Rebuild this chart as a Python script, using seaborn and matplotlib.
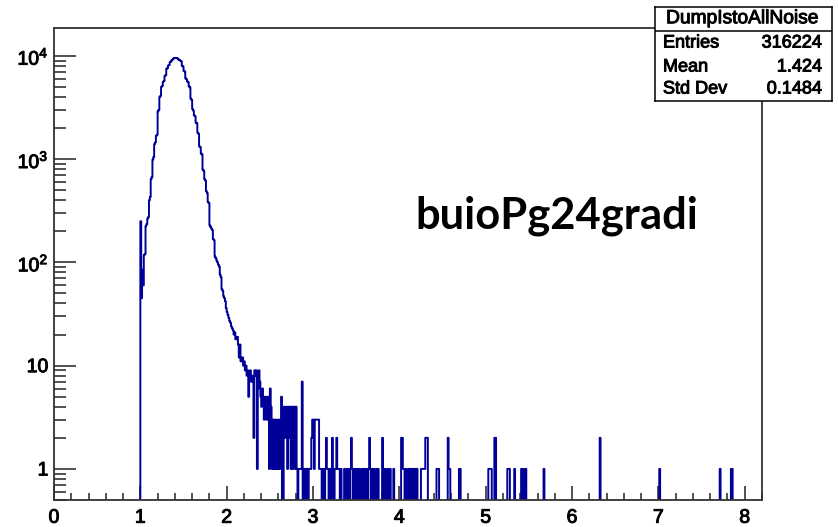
import numpy as np
import pandas as pd
import matplotlib
matplotlib.use("Agg")
import matplotlib.pyplot as plt
import matplotlib.patheffects as pe
import seaborn as sns
from matplotlib.ticker import FixedLocator, FixedFormatter, LogLocator, NullFormatter, MultipleLocator

# ---------------- data ----------------
bin_width = 0.01
x_min, x_max = 0.0, 8.2
y_min, y_max = 0.5, 1.86e4

peak_start = 1.00
peak_counts = [
    250, 45, 85, 60, 118, 120, 225, 235, 265, 275,
    400, 430, 640, 670, 990, 1050, 1400, 1450, 1680, 1720,
    2900, 3000, 4000, 4100, 5000, 5100, 5600, 5700, 6400, 6500,
    7500, 7600, 8050, 8150, 8700, 8800, 9100, 9200, 9450, 9500,
    9550, 9500, 9500, 9400, 9200, 9100, 8950, 8850, 8000, 7900,
    7150, 7050, 6050, 5950, 5650, 5550, 5050, 4950, 3850, 3750,
    3050, 2950, 2650, 2600, 2250, 2230, 1800, 1760, 1330, 1310,
    1130, 1110, 790, 770, 640, 620, 490, 470, 385, 375,
    228, 220, 212, 206, 168, 164, 114, 110, 104, 100,
    95, 91, 76, 72, 55, 53, 47, 45, 42, 36,
    33, 31, 29, 27, 26, 24, 23, 22, 20, 21,
    18, 19, 19, 16, 12, 16, 11, 12, 12, 10,
    11, 9, 10, 8, 9, 5, 8, 9, 7, 8,
]

noise_start = 2.30
noise_counts = [
    7, 2, 9, 8, 9, 1, 6, 9, 7, 5,
    4, 6, 5, 3, 5, 4, 3, 5, 3, 1,
    6, 4, 1, 3, 1, 3, 1, 3, 1, 1,
    3, 1, 3, 5, 0, 0, 4, 2, 3, 4,
    1, 4, 2, 4, 1, 4, 1, 4, 4, 1,
    4, 1, 0, 1, 1, 1, 1, 7, 0, 1,
    1, 0, 1, 1, 0, 1, 1, 1, 2, 3,
    3, 1, 3, 3, 3, 3, 3, 1,
]

tail_x = [
    3.08, 3.09, 3.11, 3.12, 3.14, 3.15, 3.16, 3.17, 3.19, 3.20,
    3.22, 3.23, 3.25, 3.26, 3.27, 3.28, 3.29, 3.30, 3.32, 3.36,
    3.39, 3.41, 3.43, 3.44, 3.45, 3.47, 3.49, 3.51, 3.53, 3.56,
    3.58, 3.60, 3.62, 3.64, 3.65, 3.66, 3.68, 3.70, 3.73, 3.75,
    3.80, 3.81, 3.83, 3.86, 3.89, 3.93, 4.02, 4.03, 4.04, 4.05,
    4.07, 4.10, 4.11, 4.13, 4.14, 4.16, 4.17, 4.19, 4.20, 4.25,
    4.26, 4.27, 4.28, 4.29, 4.30, 4.31, 4.32, 4.43, 4.44, 4.45,
    4.56, 4.57, 4.58, 4.69, 4.70, 5.03, 5.04, 5.05, 5.06, 5.10,
    5.11, 5.25, 5.26, 5.27, 5.33, 5.41, 5.42, 5.45, 5.46, 5.67,
    6.32, 7.01, 7.71, 7.84, 7.85,
]
tail_counts = [
    1, 1, 1, 1, 1, 2, 1, 1, 1, 1,
    2, 1, 1, 1, 2, 1, 1, 1, 1, 1,
    1, 1, 1, 2, 1, 1, 1, 1, 1, 1,
    1, 1, 1, 1, 2, 1, 1, 1, 1, 1,
    2, 1, 1, 1, 1, 1, 2, 2, 1, 1,
    1, 1, 1, 1, 1, 1, 1, 1, 1, 1,
    1, 1, 1, 1, 2, 2, 2, 1, 1, 1,
    2, 1, 1, 1, 1, 1, 1, 1, 1, 2,
    2, 1, 1, 1, 1, 1, 1, 1, 1, 1,
    2, 1, 1, 1, 1,
]

x_ticks = [0, 1, 2, 3, 4, 5, 6, 7, 8]
y_ticks = [1, 10, 100, 1000, 10000]
y_tick_labels = ["1", "10", r"$\mathregular{10^{2}}$", r"$\mathregular{10^{3}}$", r"$\mathregular{10^{4}}$"]

stats_title = "DumpIstoAllNoise"
stat_names = ["Entries", "Mean", "Std Dev"]
stat_values = ["316224", "1.424", "0.1484"]
overlay_text = "buioPg24gradi"

# ---------------- build histogram table ----------------
n_bins = int(round((x_max - x_min) / bin_width))
edges = x_min + bin_width * np.arange(n_bins + 1)
counts = np.zeros(n_bins)
i0 = int(round((peak_start - x_min) / bin_width))
counts[i0:i0 + len(peak_counts)] = peak_counts
i1 = int(round((noise_start - x_min) / bin_width))
counts[i1:i1 + len(noise_counts)] = noise_counts
for xv, c in zip(tail_x, tail_counts):
    counts[int(round((xv - x_min) / bin_width))] = c
df = pd.DataFrame({"x": edges[:-1] + bin_width / 2, "w": counts})

# ---------------- style ----------------
sns.set_style("white")
plt.rcParams["font.family"] = ["Liberation Sans", "DejaVu Sans"]
plt.rcParams["mathtext.fontset"] = "custom"
plt.rcParams["mathtext.rm"] = "Liberation Sans"
plt.rcParams["text.color"] = "black"
plt.rcParams["xtick.labelcolor"] = "black"
plt.rcParams["ytick.labelcolor"] = "black"

W, H = 838, 527
fig = plt.figure(figsize=(W / 100, H / 100), dpi=100)
fig.patch.set_facecolor("white")
ax = fig.add_axes([54 / W, (H - 500) / H, (762 - 54) / W, (500 - 28) / H])

line_color = "#000099"
sns.histplot(data=df, x="x", weights="w", binwidth=bin_width, binrange=(x_min, x_max),
             element="step", fill=False, color=line_color, linewidth=1.4, ax=ax)
ax.set_yscale("log")
ax.set_xlim(x_min, x_max)
ax.set_ylim(y_min, y_max)
ax.set_xlabel("")
ax.set_ylabel("")

for s in ax.spines.values():
    s.set_visible(True)
    s.set_color("#333333")
    s.set_linewidth(1.3)

ax.xaxis.set_major_locator(FixedLocator(x_ticks))
ax.xaxis.set_minor_locator(MultipleLocator(0.2))
ax.yaxis.set_major_locator(FixedLocator(y_ticks))
ax.yaxis.set_major_formatter(FixedFormatter(y_tick_labels))
ax.yaxis.set_minor_locator(LogLocator(base=10, subs=np.arange(2, 10)))
ax.yaxis.set_minor_formatter(NullFormatter())

ax.tick_params(axis="x", which="major", direction="in", length=10, width=1.1,
               color="#222222", labelcolor="black", labelsize=14, pad=7, top=False, bottom=True)
ax.tick_params(axis="x", which="minor", direction="in", length=5, width=1.1,
               color="#222222", top=False, bottom=True)
ax.tick_params(axis="y", which="major", direction="in", length=16, width=1.1,
               color="#222222", labelcolor="black", labelsize=14, pad=4, left=True, right=False)
ax.tick_params(axis="y", which="minor", direction="in", length=8.4, width=1.1,
               color="#222222", left=True, right=False)

heavy = [pe.withStroke(linewidth=0.7, foreground="black")]
for lbl in ax.get_xticklabels() + ax.get_yticklabels():
    lbl.set_path_effects(heavy)

# ---------------- stats box ----------------
sax = fig.add_axes([655 / W, (H - 101) / H, (832 - 655) / W, (101 - 7) / H])
sax.set_xlim(0, 1)
sax.set_ylim(0, 1)
sax.set_xticks([])
sax.set_yticks([])
sax.set_facecolor("white")
for s in sax.spines.values():
    s.set_visible(True)
    s.set_color("black")
    s.set_linewidth(1.1)
sax.axhline(0.745, color="black", lw=1.1)
sax.text(0.49, 0.875, stats_title, ha="center", va="center", fontsize=13.8,
         color="black", path_effects=heavy)
row_y = [0.617, 0.362, 0.128]
for ry, nm, val in zip(row_y, stat_names, stat_values):
    sax.text(0.045, ry, nm, ha="left", va="center", fontsize=13, color="black",
             path_effects=heavy)
    sax.text(0.942, ry, val, ha="right", va="center", fontsize=13, color="black",
             path_effects=heavy)

# ---------------- overlay label ----------------
fig.text(415 / W, (H - 228) / H, overlay_text, ha="left", va="baseline",
         fontsize=31.3, fontweight="bold", color="black", family=["Lato", "DejaVu Sans"])

fig.savefig("out.png", dpi=100)
